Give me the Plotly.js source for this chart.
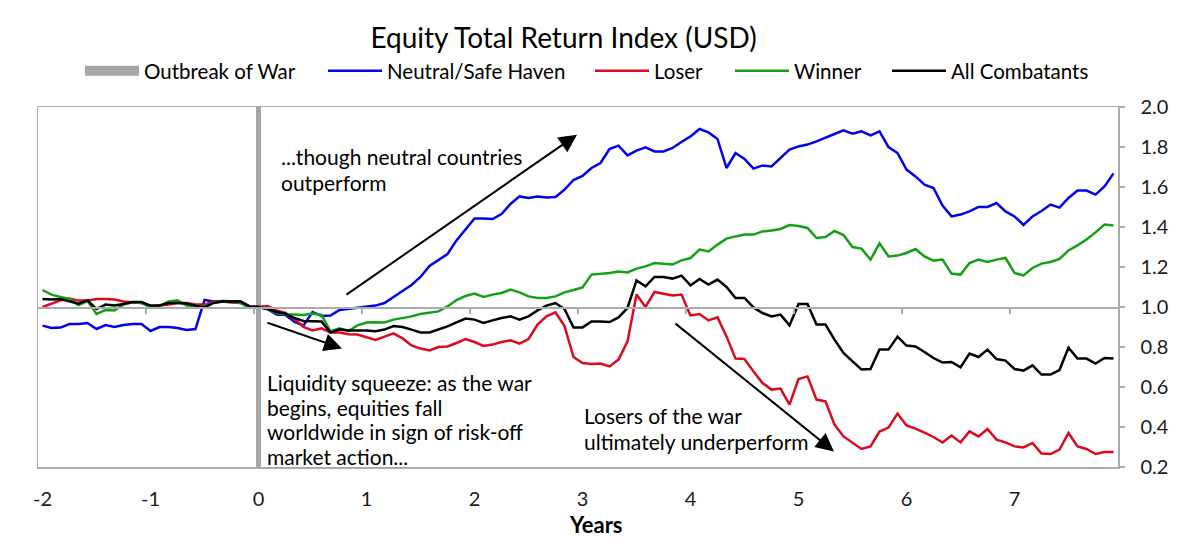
<!DOCTYPE html>
<html><head><meta charset="utf-8">
<script src="https://cdn.plot.ly/plotly-3.0.1.min.js"></script>
<style>html,body{margin:0;padding:0;background:#fff}#chart{width:1200px;height:553px}</style>
</head><body><div id="chart"></div>
<script>
// months relative to the outbreak of war (monthly observations)
const months = [
 -24,-23,-22,-21,-20,-19,-18,-17,-16,-15,-14,-13,
 -12,-11,-10,-9,-8,-7,-6,-5,-4,-3,-2,-1,
 0,1,2,3,4,5,6,7,8,9,10,11,
 12,13,14,15,16,17,18,19,20,21,22,23,
 24,25,26,27,28,29,30,31,32,33,34,35,
 36,37,38,39,40,41,42,43,44,45,46,47,
 48,49,50,51,52,53,54,55,56,57,58,59,
 60,61,62,63,64,65,66,67,68,69,70,71,
 72,73,74,75,76,77,78,79,80,81,82,83,
 84,85,86,87,88,89,90,91,92,93,94,95];

const yearTickVals = [-24,-12,0,12,24,36,48,60,72,84];
const yearTickText = ['-2','-1','0','1','2','3','4','5','6','7'];
const categoryBoundaries = [-12.5,-0.5,11.5,23.5,35.5,47.5,59.5,71.5,83.5];

const neutral = [
 0.907,0.895,0.897,0.915,0.915,0.92,0.89,0.91,0.9,0.91,0.915,0.915,
 0.88,0.9,0.9,0.895,0.885,0.89,1.035,1.028,1.03,1.03,1.027,1.003,
 1.0,0.99,0.962,0.96,0.925,0.908,0.975,0.955,0.957,0.985,0.99,0.995,
 1.002,1.007,1.02,1.048,1.08,1.11,1.15,1.205,1.237,1.265,1.333,1.387,
 1.443,1.443,1.44,1.465,1.515,1.553,1.545,1.553,1.548,1.55,1.587,1.635,
 1.655,1.695,1.72,1.79,1.807,1.758,1.782,1.798,1.778,1.778,1.795,1.825,
 1.853,1.89,1.873,1.84,1.695,1.77,1.74,1.692,1.708,1.703,1.745,1.787,
 1.803,1.812,1.828,1.848,1.865,1.883,1.867,1.878,1.858,1.878,1.8,1.77,
 1.687,1.653,1.612,1.595,1.507,1.453,1.462,1.478,1.5,1.5,1.52,1.478,
 1.453,1.41,1.453,1.48,1.512,1.497,1.545,1.582,1.582,1.562,1.603,1.668];

const loser = [
 1.0,1.017,1.033,1.042,1.032,1.033,1.04,1.04,1.037,1.028,1.025,1.02,
 1.003,1.007,1.012,1.02,1.02,1.012,1.012,1.028,1.028,1.023,1.02,1.0,
 1.0,1.005,0.983,0.97,0.94,0.9,0.883,0.893,0.872,0.872,0.864,0.862,
 0.848,0.835,0.852,0.868,0.843,0.808,0.792,0.783,0.8,0.803,0.82,0.84,
 0.825,0.805,0.812,0.825,0.833,0.817,0.84,0.912,0.953,0.973,0.905,0.75,
 0.72,0.715,0.717,0.703,0.737,0.828,1.062,1.0,1.075,1.067,1.057,1.062,
 0.958,0.965,0.933,0.948,0.853,0.742,0.74,0.678,0.62,0.587,0.592,0.512,
 0.64,0.653,0.537,0.528,0.412,0.353,0.32,0.29,0.303,0.377,0.397,0.467,
 0.408,0.392,0.372,0.35,0.322,0.357,0.323,0.378,0.353,0.39,0.337,0.323,
 0.303,0.298,0.32,0.267,0.265,0.287,0.37,0.303,0.29,0.265,0.275,0.275];

const winner = [
 1.085,1.062,1.05,1.04,1.01,1.03,0.965,0.985,0.983,1.012,1.023,1.02,
 0.998,1.003,1.028,1.033,1.008,1.006,1.003,1.023,1.028,1.028,1.02,0.995,
 1.0,0.99,0.97,0.962,0.963,0.96,0.968,0.96,0.878,0.893,0.88,0.908,
 0.922,0.924,0.923,0.937,0.945,0.953,0.965,0.973,0.978,1.003,1.035,1.055,
 1.067,1.05,1.062,1.07,1.087,1.073,1.053,1.045,1.045,1.053,1.073,1.085,
 1.098,1.162,1.165,1.17,1.178,1.173,1.192,1.203,1.22,1.217,1.212,1.233,
 1.245,1.287,1.278,1.312,1.342,1.353,1.362,1.362,1.378,1.382,1.39,1.41,
 1.405,1.395,1.345,1.35,1.38,1.36,1.3,1.292,1.237,1.318,1.253,1.257,
 1.27,1.29,1.253,1.232,1.237,1.167,1.162,1.22,1.237,1.225,1.237,1.245,
 1.17,1.158,1.195,1.217,1.225,1.24,1.283,1.308,1.337,1.373,1.412,1.407];

const combatants = [
 1.04,1.037,1.04,1.028,1.017,1.033,0.99,1.012,1.007,1.015,1.025,1.025,
 1.007,1.008,1.02,1.02,1.017,1.007,0.998,1.02,1.028,1.028,1.028,1.003,
 1.0,0.99,0.975,0.967,0.945,0.93,0.927,0.927,0.872,0.888,0.882,0.883,
 0.883,0.879,0.887,0.905,0.9,0.887,0.873,0.873,0.887,0.903,0.923,0.942,
 0.937,0.92,0.933,0.945,0.953,0.937,0.953,0.983,1.007,1.02,0.99,0.898,
 0.898,0.928,0.928,0.925,0.948,0.995,1.133,1.103,1.15,1.15,1.142,1.157,
 1.108,1.14,1.112,1.137,1.1,1.045,1.045,0.998,0.97,0.953,0.962,0.908,
 1.015,1.015,0.912,0.912,0.837,0.77,0.728,0.688,0.69,0.788,0.787,0.852,
 0.807,0.803,0.775,0.745,0.722,0.725,0.698,0.767,0.75,0.787,0.74,0.732,
 0.69,0.682,0.708,0.662,0.662,0.685,0.797,0.742,0.742,0.717,0.745,0.742];

const warMonth = [0, 0];
const warSpan = [0.2, 2.0];

// annotation text lines
const neutralNote = ['...though neutral countries', 'outperform'];
const liquidityNote = ['Liquidity squeeze: as the war', 'begins, equities fall', 'worldwide in sign of risk-off', 'market action...'];
const loserNote = ['Losers of the war', 'ultimately underperform'];

const FONT = 'Lato, "Open Sans", sans-serif';
const GREY = '#ABABAB';
const lw = 2.5;

const traces = [
  {x: warMonth, y: warSpan, mode: 'lines', line: {color: '#A6A6A6', width: 5}, showlegend: false, hoverinfo: 'skip'},
  {x: [null], y: [null], xaxis: 'x2', mode: 'lines', name: 'Outbreak of War', line: {color: '#A6A6A6', width: 11}, legend: 'legend'},
  {x: months, y: neutral, mode: 'lines', name: 'Neutral/Safe Haven', line: {color: '#0000F0', width: lw}, legend: 'legend2'},
  {x: months, y: loser, mode: 'lines', name: 'Loser', line: {color: '#DC0A1E', width: lw}, legend: 'legend3'},
  {x: months, y: winner, mode: 'lines', name: 'Winner', line: {color: '#14A014', width: lw}, legend: 'legend4'},
  {x: months, y: combatants, mode: 'lines', name: 'All Combatants', line: {color: '#000000', width: lw}, legend: 'legend5'}
];

function leg(xpx) {
  return {orientation: 'h', xref: 'container', yref: 'container', x: xpx / 1200, y: 1 - 71 / 553,
          xanchor: 'left', yanchor: 'middle', font: {family: FONT, size: 20.5, color: '#000'},
          itemwidth: 54, bgcolor: 'rgba(0,0,0,0)', borderwidth: 0};
}

const annFont = {family: FONT, size: 21, color: '#000'};
function textLines(lines, xMonth, yVals) {
  return lines.map((t, i) => ({xref: 'x', yref: 'y', x: xMonth, y: yVals[i], xanchor: 'left', yanchor: 'middle',
    align: 'left', showarrow: false, text: t, font: annFont}));
}
function arrow(x, y, ax, ay) {
  return {xref: 'x', yref: 'y', axref: 'x', ayref: 'y', x: x, y: y, ax: ax, ay: ay, text: '',
          showarrow: true, arrowhead: 2, arrowsize: 1.8, arrowwidth: 2, arrowcolor: '#000', standoff: 0};
}

const layout = {
  width: 1200, height: 553,
  margin: {l: 38, r: 82, t: 107, b: 86},
  paper_bgcolor: '#fff', plot_bgcolor: '#fff',
  font: {family: FONT, color: '#000'},
  title: {text: 'Equity Total Return Index (USD)', font: {family: FONT, size: 28, color: '#000'},
          xref: 'container', yref: 'container', x: 563.5 / 1200, y: 1 - 38 / 553, xanchor: 'center', yanchor: 'middle'},
  showlegend: true,
  legend: leg(80), legend2: leg(323), legend3: leg(590), legend4: leg(730), legend5: leg(887),
  xaxis: {range: [-24.5, 95.5], tickmode: 'array', tickvals: yearTickVals, ticktext: yearTickText,
          showline: true, mirror: true, linecolor: GREY, linewidth: 1.5, ticks: '', showgrid: false, zeroline: false,
          tickfont: {family: FONT, size: 20, color: '#1a1a1a'}, ticklabelstandoff: 13},
  xaxis2: {overlaying: 'x', anchor: 'free', position: 0.8 / 1.8, side: 'bottom', range: [-24.5, 95.5],
           tickmode: 'array', tickvals: categoryBoundaries, ticks: 'outside', ticklen: 5, tickcolor: GREY, tickwidth: 1.5,
           showticklabels: false, showline: true, linecolor: GREY, linewidth: 1.5, showgrid: false, zeroline: false},
  yaxis: {range: [0.2, 2.0], side: 'right', tick0: 0.2, dtick: 0.2, tickformat: '.1f',
          ticks: 'outside', ticklen: 5, tickcolor: GREY, tickwidth: 1.5,
          showline: true, mirror: true, linecolor: GREY, linewidth: 1.5, showgrid: false, zeroline: false,
          tickfont: {family: FONT, size: 20, color: '#1a1a1a'}, ticklabelstandoff: 12},
  annotations: [
    ...textLines(neutralNote, 2.28, [1.7515, 1.6215]),
    ...textLines(liquidityNote, 0.72, [0.6215, 0.4965, 0.3765, 0.2515]),
    ...textLines(loserNote, 35.94, [0.4565, 0.328]),
    {xref: 'paper', yref: 'paper', x: (596 - 38) / 1080, y: (467.3 - 525) / 360, xanchor: 'center', yanchor: 'middle',
     showarrow: false, text: '<b>Years</b>', font: {family: FONT, size: 22, color: '#000'}},
    arrow(35.39, 1.8615, 9.61, 1.0565),
    arrow(9.28, 0.793, 0.833, 0.924),
    arrow(63.94, 0.278, 46.17, 0.923)
  ]
};

Plotly.newPlot('chart', traces, layout, {displayModeBar: false, staticPlot: true});
</script>
</body></html>
